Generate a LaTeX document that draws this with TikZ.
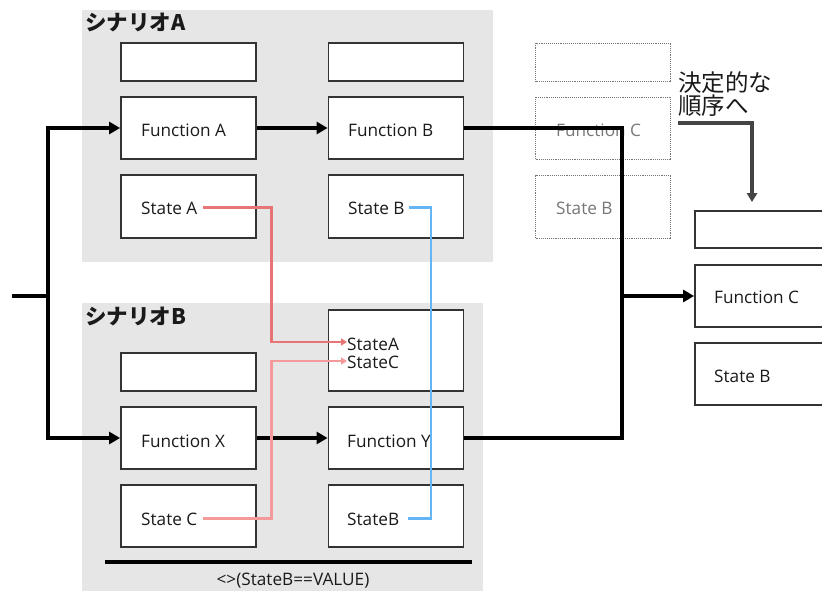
\documentclass[tikz,border=0pt]{standalone}
\usepackage{fontspec}
\setmainfont{Open Sans}
\newfontfamily\jp{Noto Sans CJK JP}
\usetikzlibrary{arrows.meta}
\definecolor{panel}{HTML}{E6E6E6}
\definecolor{boxline}{HTML}{333333}
\definecolor{txt}{HTML}{1A1A1A}
\definecolor{ghost}{HTML}{777777}
\definecolor{redA}{HTML}{E87575}
\definecolor{pinkC}{HTML}{F59A9A}
\definecolor{blueB}{HTML}{64B5F6}
\definecolor{orderline}{HTML}{444444}

\begin{document}
\begin{tikzpicture}[x=1pt,y=-1pt,
  panelbox/.style={fill=panel, draw=none},
  box/.style={draw=boxline, fill=white, line width=1.8pt, inner sep=0pt, minimum width=135pt},
  ghostbox/.style={draw=ghost, densely dotted, line width=0.9pt, inner sep=0pt, minimum width=135pt},
  lbl/.style={inner sep=0pt, anchor=base west, text=txt, font=\fontsize{17.2}{20}\selectfont},
  ghostlbl/.style={lbl, text=ghost},
  title/.style={inner sep=0pt, anchor=west, text=txt, font=\jp\bfseries\fontsize{21.5}{24}\selectfont},
  flow/.style={line width=3.2pt, draw=black},
  flowarrow/.style={flow, -{Triangle[length=11pt,width=12pt]}},
  redflow/.style={line width=2.8pt, draw=redA, -{Triangle[length=6pt,width=7pt]}},
  pinkflow/.style={line width=2.8pt, draw=pinkC, -{Triangle[length=6pt,width=7pt]}},
  blueflow/.style={line width=2.8pt, draw=blueB},
  orderarrow/.style={line width=3.8pt, draw=orderline, -{Triangle[length=9pt,width=10pt]}}
]
\useasboundingbox (0,0) rectangle (822,591);
\clip (0,0) rectangle (822,591);

% scenario panels
\fill[panelbox] (82,10) rectangle (493,262);
\fill[panelbox] (82,303) rectangle (483,591);
\node[title] (tA) at (85,22) {シナリオA};
\node[title] (tB) at (85,316) {シナリオB};

% scenario A
\node[box, minimum height=38pt] (a1) at (188.5,62) {};
\node[box, minimum height=62pt] (fa) at (188.5,128) {};
\node[lbl] (fat) at (141,137) {Function A};
\node[box, minimum height=63pt] (sa) at (188.5,206.5) {};
\node[lbl] (sat) at (141,214) {State A};
\node[box, minimum height=38pt] (b1) at (396,62) {};
\node[box, minimum height=62pt] (fb) at (396,128) {};
\node[lbl] (fbt) at (348,137) {Function B};
\node[box, minimum height=63pt] (sb) at (396,206.5) {};
\node[lbl] (sbt) at (348,214) {State B};

% scenario B
\node[box, minimum height=38pt] (x1) at (188.5,372) {};
\node[box, minimum height=62pt] (fx) at (188.5,438) {};
\node[lbl] (fxt) at (141,447) {Function X};
\node[box, minimum height=62pt] (scc) at (188.5,516) {};
\node[lbl] (sct) at (141,525) {State C};
\node[box, minimum height=81pt] (yin) at (396,350.5) {};
\node[lbl] (yat) at (347,350) {StateA};
\node[lbl] (yct) at (347,368) {StateC};
\node[box, minimum height=62pt] (fy) at (396,438) {};
\node[lbl] (fyt) at (347,447) {Function Y};
\node[box, minimum height=62pt] (sbb) at (396,516) {};
\node[lbl] (sbbt) at (347,525) {StateB};
\draw[line width=4.2pt] (105,562) -- (472,562);
\node[lbl, anchor=base] (cond) at (293,585) {<>(StateB==VALUE)};

% discarded candidate
\node[ghostbox, minimum height=38pt] (c1) at (603,62) {};
\node[ghostbox, minimum height=62pt] (fc) at (603,128) {};
\node[ghostlbl] (fct) at (556,137) {Function C};
\node[ghostbox, minimum height=63pt] (sc) at (603,206.5) {};
\node[ghostlbl] (sct2) at (556,214) {State B};

% deterministic successor
\node[box, minimum height=37pt] (r1) at (762.5,229.5) {};
\node[box, minimum height=62pt] (rfc) at (762.5,296) {};
\node[lbl] (rfct) at (714,303) {Function C};
\node[box, minimum height=62pt] (rsb) at (762.5,374) {};
\node[lbl] (rsbt) at (714,382) {State B};
\node[inner sep=0pt, anchor=north west, align=left, text=txt, font=\jp\fontsize{23.5}{23}\selectfont]
  (ord) at (678,71) {決定的な\\順序へ};

% control flow
\coordinate (in) at (12,296);
\coordinate (split) at (48,296);
\coordinate (merge) at (622,296);
\draw[flow] (in) -- (split);
\draw[flowarrow] (split) |- (fa.west);
\draw[flowarrow] (split) |- (fx.west);
\draw[flowarrow] (fa) -- (fb);
\draw[flowarrow] (fx) -- (fy);
\draw[flow] (fb.east) -| (merge);
\draw[flow] (fy.east) -| (merge);
\draw[flowarrow] (merge) -- (rfc.west);

% state hand-over
\coordinate (redx) at (271.5,0);
\coordinate (bluex) at (431,0);
\coordinate (aout) at ([xshift=5pt]sat.east);
\coordinate (cout) at ([xshift=5pt]sct.east);
\coordinate (bout) at ([xshift=4pt]sbt.east);
\coordinate (bend) at ([xshift=9pt]sbbt.east);
\coordinate (ain) at ([yshift=8pt]yat.base west);
\coordinate (cin) at ([yshift=7pt]yct.base west);
\draw[redflow] (aout) -- (aout -| redx) -- (ain -| redx) -- (ain);
\draw[pinkflow] (cout) -- (cout -| redx) -- (cin -| redx) -- (cin);
\draw[blueflow] (bout) -- (bout -| bluex) -- (bend -| bluex) -- (bend);

% ordering hint
\coordinate (turn) at (752,123);
\draw[orderarrow, shorten >=8pt] (turn -| ord.west) -- (turn) -- (turn |- r1.north);
\end{tikzpicture}
\end{document}
